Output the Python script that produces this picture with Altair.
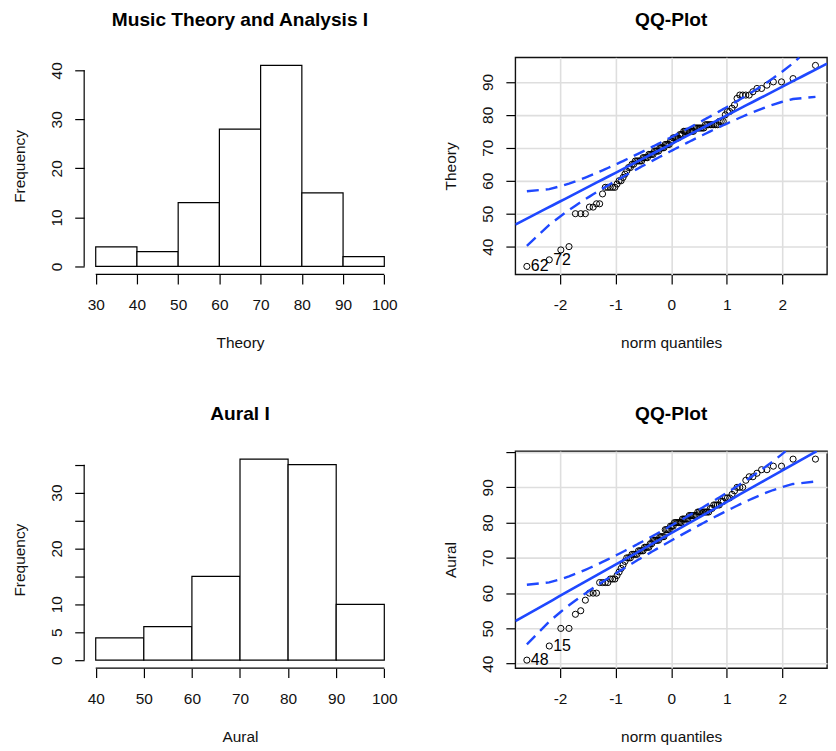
import math
from statistics import NormalDist

import altair as alt
import pandas as pd

FONT = "Liberation Sans"
BLUE = "#1f48ff"
INK = "#111111"
W, H = 313, 218

# ---- histogram data ----
theory_breaks = [30, 40, 50, 60, 70, 80, 90, 100]
theory_counts = [4, 3, 13, 28, 41, 15, 2]
aural_breaks = [40, 50, 60, 70, 80, 90, 100]
aural_counts = [4, 6, 15, 36, 35, 10]

# ---- sorted scores ----
theory_scores = [
    34, 36, 39, 40, 50, 50, 50, 52, 52, 53, 53, 56, 58, 58, 58, 58, 58, 59, 60, 60,
    61, 62, 63, 64, 64, 65, 65, 66, 66, 66, 66, 66, 67, 67, 67, 67, 68, 68, 68, 68,
    69, 69, 69, 69, 70, 70, 70, 70,
    71, 71, 71, 71, 72, 72, 73, 73, 73, 73, 73, 74, 74, 74, 75, 75, 75, 75, 75, 75,
    75, 75, 76, 76, 76, 76, 76, 76, 76, 77, 77, 77, 77, 77, 77, 77, 77, 78, 78, 78, 80,
    81, 81, 82, 83, 85, 86, 86, 86, 86, 87, 88, 88, 89, 90, 90, 91, 95,
]
aural_scores = [
    41, 45, 50, 50, 54, 55, 58, 60, 60, 60,
    63, 63, 63, 63, 64, 64, 64, 65, 66, 67, 68, 69, 70, 70, 70,
    71, 71, 71, 71, 72, 72, 72, 72, 73, 73, 73, 73, 74, 74, 75, 75, 75, 75, 75,
    76, 76, 76, 76, 78, 78, 78, 78, 79, 79, 79, 80, 80, 80, 80, 80, 80,
    81, 81, 81, 81, 81, 82, 82, 82, 82, 82, 82, 83, 83, 83, 83, 83, 83, 83, 83,
    84, 84, 85, 85, 85, 85, 86, 86, 87, 87, 87, 88, 89, 90, 90, 90,
    92, 93, 93, 94, 95, 95, 96, 96, 98, 98,
]
theory_flag_rank = [1, 2]
theory_flag_text = ["62", "72"]
aural_flag_rank = [1, 2]
aural_flag_text = ["48", "15"]

theory_hist_yticks = [0, 10, 20, 30, 40]
aural_hist_yticks = [0, 5, 10, 15, 20, 25, 30, 35]
aural_hist_yhidden = [15, 25, 35]
qq_xticks = [-2, -1, 0, 1, 2]
theory_qq_yticks = [40, 50, 60, 70, 80, 90]
aural_qq_yticks = [40, 50, 60, 70, 80, 90, 100]
aural_qq_yhidden = [100]


def ext(lo, hi):
    r = hi - lo
    return [lo - 0.04 * r, hi + 0.04 * r]


def clip_poly(zs, vs, ylo, yhi):
    """Cut a polyline at the plot box (keeps layout bounds inside the panel)."""
    out_z, out_v = [], []
    for k in range(len(zs)):
        inside = ylo <= vs[k] <= yhi
        if k > 0:
            prev_in = ylo <= vs[k - 1] <= yhi
            if inside != prev_in:
                lim = yhi if (vs[k] > yhi or vs[k - 1] > yhi) else ylo
                t = (lim - vs[k - 1]) / (vs[k] - vs[k - 1])
                out_z.append(zs[k - 1] + t * (zs[k] - zs[k - 1]))
                out_v.append(lim)
        if inside:
            out_z.append(zs[k])
            out_v.append(vs[k])
    return out_z, out_v


def common_axis():
    return dict(
        domain=False, ticks=True, tickSize=9.5, tickWidth=1.2, tickColor="#000000",
        tickCount=30,
        labelFont=FONT, labelFontSize=15.5, labelColor=INK, labelFlush=False,
        labelOverlap=False, labelBound=False,
        titleFont=FONT, titleFontSize=15.5, titleFontWeight="normal", titleColor=INK,
        gridColor="#dedede", gridWidth=1.6,
    )


def x_axis(values, title, grid=False):
    return alt.Axis(
        values=values, title=title, grid=grid, labelAngle=0,
        labelBaseline="alphabetic", labelAlign="center", labelPadding=25.5,
        labelExpr="datum.value < 0 ? '-' + abs(datum.value) : '' + datum.value",
        titleBaseline="alphabetic", titleY=73.4, **common_axis(),
    )


def y_axis(values, title, hidden=None, grid=False):
    hid = ",".join(str(v) for v in hidden) if hidden else "-99999"
    return alt.Axis(
        values=values, title=title, grid=grid, labelAngle=270,
        labelAlign="center", labelBaseline="alphabetic", labelPadding=13.3,
        labelExpr=f"indexof([{hid}], datum.value) >= 0 ? '' : '' + datum.value",
        titleAngle=270, titleAlign="center", titleBaseline="alphabetic",
        titleX=-60, titleY=H / 2, **common_axis(),
    )


def panel_title(text):
    return alt.TitleParams(
        text=text, font=FONT, fontSize=19.2, fontWeight="bold", color="#000000",
        anchor="middle", frame="group", baseline="alphabetic", offset=12.3,
    )


def histogram(breaks, counts, title, xlabel, yticks, yhidden=None):
    df = pd.DataFrame({"lo": breaks[:-1], "hi": breaks[1:], "n": counts})
    xs = alt.Scale(domain=ext(breaks[0], breaks[-1]), nice=False, zero=False)
    ys = alt.Scale(domain=ext(0, max(counts)), nice=False, zero=False)
    bars = alt.Chart(df).mark_rect(fill="white", stroke="#000000", strokeWidth=1.2).encode(
        x=alt.X("lo:Q", scale=xs, axis=x_axis(breaks, xlabel)),
        x2="hi:Q",
        y=alt.Y("n:Q", scale=ys, axis=y_axis(yticks, "Frequency", yhidden)),
        y2=alt.datum(0),
    )
    one = alt.Chart(pd.DataFrame({"k": [0]}))
    xline = one.mark_rule(color="#000000", strokeWidth=1.2).encode(
        x=alt.datum(breaks[0]), x2=alt.datum(breaks[-1]), y=alt.value(H)
    )
    yline = one.mark_rule(color="#000000", strokeWidth=1.2).encode(
        x=alt.value(0), y=alt.datum(yticks[0]), y2=alt.datum(yticks[-1])
    )
    return alt.layer(bars, xline, yline).properties(
        width=W, height=H, title=panel_title(title)
    )


def qqplot(scores, flag_rank, flag_text, ylabel, yticks, yhidden=None):
    s = sorted(scores)
    n = len(s)
    nd = NormalDist()
    P = [(i + 0.5) / n for i in range(n)]
    z = [nd.inv_cdf(p) for p in P]

    def q7(p):
        h = (n - 1) * p
        lo = int(math.floor(h))
        hi = min(lo + 1, n - 1)
        return s[lo] + (h - lo) * (s[hi] - s[lo])

    q1, q3 = q7(0.25), q7(0.75)
    z1, z3 = nd.inv_cdf(0.25), nd.inv_cdf(0.75)
    b = (q3 - q1) / (z3 - z1)
    a = q1 - b * z1
    zz = nd.inv_cdf(0.975)

    xdom = ext(min(z), max(z))
    ydom = ext(min(s), max(s))

    pts = pd.DataFrame({"z": z, "v": s})
    up, lo_ = [], []
    for zi, p in zip(z, P):
        se = (b / nd.pdf(zi)) * math.sqrt(p * (1 - p) / n)
        fit = a + b * zi
        up.append(fit + zz * se)
        lo_.append(fit - zz * se)
    rows = []
    for name, vals in (("upper", up), ("lower", lo_)):
        cz, cv = clip_poly(z, vals, ydom[0], ydom[1])
        for zi, vi in zip(cz, cv):
            rows.append({"z": zi, "v": vi, "band": name})
    env = pd.DataFrame(rows)

    rz = [xdom[0] + k * (xdom[1] - xdom[0]) / 50 for k in range(51)]
    rv = [a + b * zi for zi in rz]
    rz, rv = clip_poly(rz, rv, ydom[0], ydom[1])
    ref = pd.DataFrame({"z": rz, "v": rv})

    flags = pd.DataFrame({
        "z": [z[r - 1] for r in flag_rank],
        "v": [s[r - 1] for r in flag_rank],
        "lab": flag_text,
    })

    xs = alt.Scale(domain=xdom, nice=False, zero=False)
    ys = alt.Scale(domain=ydom, nice=False, zero=False)

    p_layer = alt.Chart(pts).mark_point(
        shape="circle", filled=False, color="#000000", size=38, strokeWidth=1, opacity=1
    ).encode(
        x=alt.X("z:Q", scale=xs, axis=x_axis(qq_xticks, "norm quantiles", grid=True)),
        y=alt.Y("v:Q", scale=ys, axis=y_axis(yticks, ylabel, yhidden, grid=True)),
    )
    r_layer = alt.Chart(ref).mark_line(color=BLUE, strokeWidth=2.6, clip=True).encode(
        x="z:Q", y="v:Q", order="z:Q"
    )
    e_layer = alt.Chart(env).mark_line(
        color=BLUE, strokeWidth=2.4, strokeDash=[12, 7], clip=True
    ).encode(x="z:Q", y="v:Q", detail="band:N", order="z:Q")
    t_layer = alt.Chart(flags).mark_text(
        align="left", baseline="middle", dx=4, font=FONT, fontSize=16, color="#000000"
    ).encode(x="z:Q", y="v:Q", text="lab:N")
    return alt.layer(p_layer, r_layer, e_layer, t_layer).properties(
        width=W, height=H, title=panel_title("QQ-Plot"),
        view=alt.ViewBackground(stroke="#111111", strokeWidth=1.4),
    )


h1 = histogram(theory_breaks, theory_counts, "Music Theory and Analysis I", "Theory",
               theory_hist_yticks)
q1 = qqplot(theory_scores, theory_flag_rank, theory_flag_text, "Theory", theory_qq_yticks)
h2 = histogram(aural_breaks, aural_counts, "Aural I", "Aural", aural_hist_yticks,
               aural_hist_yhidden)
q2 = qqplot(aural_scores, aural_flag_rank, aural_flag_text, "Aural", aural_qq_yticks,
            aural_qq_yhidden)

chart = alt.concat(
    h1, q1, h2, q2, columns=2,
    spacing={"row": 177.4, "column": 120}, bounds="flush",
).properties(
    padding={"left": 3.5, "top": 0, "right": 0, "bottom": 0}
).configure_view(stroke="transparent").configure_axis(labelOverlap=False)

chart.save("out.html", embed_options={"renderer": "svg", "actions": False})
